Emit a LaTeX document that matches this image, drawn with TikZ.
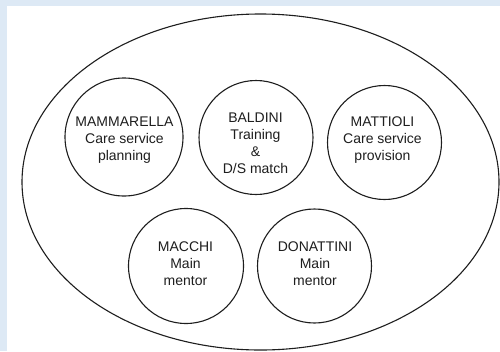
\documentclass[tikz,border=0pt]{standalone}
\usepackage{fontspec}
\setmainfont{Liberation Sans}
\usetikzlibrary{shapes.geometric}
\definecolor{bgblue}{RGB}{221,233,245}
\definecolor{ink}{RGB}{30,30,30}
\begin{document}
\begin{tikzpicture}[x=1pt,y=-1pt,
  ring/.style={draw=ink,line width=1.1pt,circle,inner sep=0pt},
  lbl/.style={align=center,font=\fontsize{14}{17}\selectfont,text=ink,inner sep=0pt}]
\fill[bgblue] (0,0) rectangle (500,351);
\fill[white] (7,6) rectangle (500,351);
\useasboundingbox (0,0) rectangle (500,351);
\node[draw=ink,line width=1.1pt,ellipse,minimum width=477pt,minimum height=336pt,inner sep=0pt] (outer) at (260.5,182) {};
\node[ring,minimum size=118pt] (mam) at (124,137) {};
\node[ring,minimum size=114pt] (bal) at (256,137.5) {};
\node[ring,minimum size=114pt] (mat) at (384.5,142.5) {};
\node[ring,minimum size=115pt] (mac) at (186,266) {};
\node[ring,minimum size=114pt] (don) at (314.5,266) {};
\node[lbl] (tmam) at (124.5,140) {MAMMARELLA\\Care service\\planning};
\node[lbl] (tbal) at (255.5,143.5) {BALDINI\\Training\\\&\\D/S match};
\node[lbl] (tmat) at (382.5,140) {MATTIOLI\\Care service\\provision};
\node[lbl] (tmac) at (185.5,263.5) {MACCHI\\Main\\mentor};
\node[lbl] (tdon) at (315,263.5) {DONATTINI\\Main\\mentor};
\end{tikzpicture}
\end{document}
